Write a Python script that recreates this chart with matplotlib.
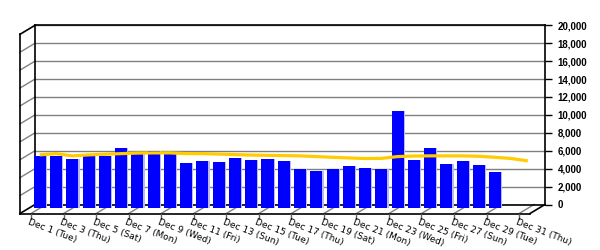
import matplotlib
matplotlib.use("Agg")
import matplotlib.pyplot as plt
from matplotlib.lines import Line2D
from matplotlib.transforms import offset_copy, IdentityTransform

plt.rcParams['font.family'] = ['Liberation Sans', 'DejaVu Sans']

# Data (daily values for December, bars stop at Dec 29)
days = list(range(31))
bar_values = [5880, 5880, 5550, 5800, 5800, 6770, 6330, 6440, 6330, 5100,
              5320, 5210, 5660, 5430, 5550, 5320, 4430, 4210, 4430, 4770,
              4540, 4430, 10900, 5430, 6770, 4990, 5320, 4880, 4100]
trend = [5960, 6100, 5850, 5960, 6030, 6100, 6160, 6180, 6180, 6100,
         6100, 6050, 5990, 5940, 5910, 5880, 5850, 5770, 5690, 5620,
         5550, 5570, 5770, 5830, 5850, 5850, 5850, 5800, 5690, 5550, 5290]
tick_labels = ["Dec 1 (Tue)", "Dec 3 (Thu)", "Dec 5 (Sat)", "Dec 7 (Mon)",
               "Dec 9 (Wed)", "Dec 11 (Fri)", "Dec 13 (Sun)", "Dec 15 (Tue)",
               "Dec 17 (Thu)", "Dec 19 (Sat)", "Dec 21 (Mon)", "Dec 23 (Wed)",
               "Dec 25 (Fri)", "Dec 27 (Sun)", "Dec 29 (Tue)", "Dec 31 (Thu)"]
y_ticks = [0, 2000, 4000, 6000, 8000, 10000, 12000, 14000, 16000, 18000, 20000]

# depth of the fake 3D box, in pixels
DX, DY = 15, 9
BAR_DEPTH = 0.42

fig = plt.figure(figsize=(6, 2.5), dpi=100)
ax = fig.add_axes([35 / 600, 45.5 / 250, 510 / 600, 179.2 / 250])
ax.set_xlim(-0.68, 30.67)
ax.set_ylim(0, 20000)

# back wall
ax.set_axisbelow(True)
ax.yaxis.grid(True, color='#808080', lw=1)
for s in ax.spines.values():
    s.set_color('black')
    s.set_linewidth(1.2)
ax.set_xticks([])
ax.yaxis.tick_right()
ax.set_yticks(y_ticks)
ax.set_yticklabels([f"{v:,}" for v in y_ticks])
ax.tick_params(axis='y', length=5, width=1, pad=4, labelsize=7)
for lbl in ax.get_yticklabels():
    lbl.set_fontweight('bold')

bar_tr = offset_copy(ax.transData, fig=fig, x=-DX * BAR_DEPTH, y=-DY * BAR_DEPTH, units='dots')
shadow_tr = offset_copy(ax.transData, fig=fig, x=-DX * BAR_DEPTH + 1.2, y=-DY * BAR_DEPTH, units='dots')

ax.bar(days[:len(bar_values)], bar_values, width=0.74, color='#b8b8f4',
       transform=shadow_tr, zorder=2.9, clip_on=False)
ax.bar(days[:len(bar_values)], bar_values, width=0.74, color='#0000ff',
       transform=bar_tr, zorder=3, clip_on=False)
ax.plot(days, trend, color='#ffcc00', lw=2.3, transform=bar_tr, zorder=4,
        clip_on=False, solid_capstyle='butt')


def px(x, y):
    return ax.transData.transform((x, y))


def seg(p, q, color='black', lw=1.2, z=2.5):
    ax.add_artist(Line2D([p[0], q[0]], [p[1], q[1]], color=color, lw=lw,
                         transform=IdentityTransform(), clip_on=False, zorder=z))


x0, x1 = ax.get_xlim()
# left wall
for v in y_ticks:
    b = px(x0, v)
    f = (b[0] - DX, b[1] - DY)
    if v in (0, 20000):
        seg(b, f)
    else:
        seg(b, f, color='#808080', lw=1)
seg((px(x0, 0)[0] - DX, px(x0, 0)[1] - DY), (px(x0, 20000)[0] - DX, px(x0, 20000)[1] - DY))
# floor
bl, br = px(x0, 0), px(x1, 0)
seg((bl[0] - DX, bl[1] - DY), (br[0] - DX, br[1] - DY))
seg(br, (br[0] - DX, br[1] - DY))

label_tr = offset_copy(ax.transData, fig=fig, x=-DX - 1.5, y=-DY - 4, units='dots')
for i, lab in enumerate(tick_labels):
    k = days[i * 2]
    b = px(k, 0)
    f = (b[0] - DX, b[1] - DY)
    seg(b, f, color='#808080', lw=1, z=0.5)
    seg(f, (f[0], f[1] - 5), color='#606060', lw=1, z=2.5)
    ax.text(k, 0, lab, transform=label_tr, rotation=-21, rotation_mode='anchor',
            ha='left', va='top', fontsize=6.5, family='DejaVu Sans')

fig.savefig("out.png", dpi=100)
